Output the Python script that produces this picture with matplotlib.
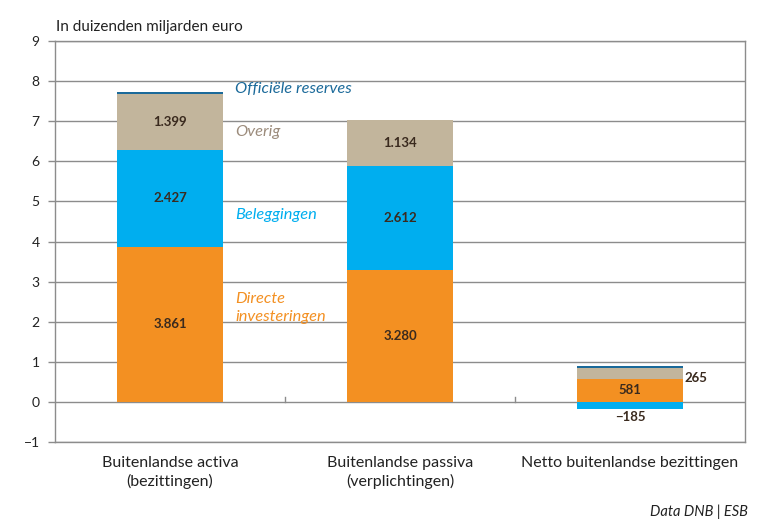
import numpy as np
import matplotlib.pyplot as plt

# Data (in duizenden miljarden euro)
categories = ['Buitenlandse activa\n(bezittingen)',
              'Buitenlandse passiva\n(verplichtingen)',
              'Netto buitenlandse bezittingen']
directe = [3.861, 3.280, 0.581]
beleggingen = [2.427, 2.612, -0.185]
overig = [1.399, 1.134, 0.265]
reserves = [0.05, 0.0, 0.05]

labels_directe = ['3.861', '3.280', '581']
labels_beleggingen = ['2.427', '2.612', '\u2212185']
labels_overig = ['1.399', '1.134', '265']

C_ORANGE = '#F39022'
C_BLUE = '#00AEEF'
C_TAN = '#C2B59C'
C_RES = '#1B6A9A'
C_TXT = '#3A2A1E'
C_GRID = '#8C8C8C'

plt.rcParams['font.family'] = ['Lato', 'DejaVu Sans']

fig = plt.figure(figsize=(7.62, 5.26), dpi=100)
ax = fig.add_axes([0.0722, 0.1597, 0.9055, 0.7623])

x = np.arange(len(categories))
w = 0.46
directe = np.array(directe)
beleggingen = np.array(beleggingen)
overig = np.array(overig)
reserves = np.array(reserves)

# positieve delen gestapeld, negatieve beleggingen onder nul
pos_bel = np.where(beleggingen > 0, beleggingen, 0)
neg_bel = np.where(beleggingen < 0, beleggingen, 0)

ax.bar(x, directe, w, color=C_ORANGE, zorder=3)
ax.bar(x, pos_bel, w, bottom=directe, color=C_BLUE, zorder=3)
ax.bar(x, neg_bel, w, color=C_BLUE, zorder=3)
top2 = directe + pos_bel
ax.bar(x, overig, w, bottom=top2, color=C_TAN, zorder=3)
top3 = top2 + overig
ax.bar(x, reserves, w, bottom=top3, color=C_RES, zorder=3)

# waardelabels
lab_kw = dict(ha='center', va='center', fontsize=9.5, fontweight='bold', color=C_TXT, zorder=4)
for i in range(2):
    ax.text(x[i], directe[i] / 2, labels_directe[i], **lab_kw)
    ax.text(x[i], directe[i] + beleggingen[i] / 2, labels_beleggingen[i], **lab_kw)
    ax.text(x[i], top2[i] + overig[i] / 2, labels_overig[i], **lab_kw)
ax.text(x[2], directe[2] / 2, labels_directe[2], **lab_kw)
ax.text(x[2], beleggingen[2] - 0.18, labels_beleggingen[2], **lab_kw)
ax.text(x[2] + w / 2 + 0.005, top2[2] + overig[2] / 2 - 0.12, labels_overig[2],
        ha='left', va='center', fontsize=9.5, fontweight='bold', color=C_TXT, zorder=4)

# reekslabels
sx = 0.283
skw = dict(ha='left', va='center', fontsize=11.8, style='italic', zorder=4)
ax.text(sx, 7.8, 'Officiële reserves', color=C_RES, **skw)
ax.text(sx, 6.72, 'Overig', color='#9C8C7C', **skw)
ax.text(sx, 4.66, 'Beleggingen', color=C_BLUE, **skw)
ax.text(sx, 2.34, 'Directe\ninvesteringen', color=C_ORANGE, linespacing=1.3, **skw)

# assen
ax.set_xlim(-0.5, 2.5)
ax.set_ylim(-1, 9)
ax.set_yticks(range(-1, 10))
ax.set_yticklabels(['\u22121'] + [str(v) for v in range(0, 10)])
ax.yaxis.grid(True, color=C_GRID, linewidth=1.0, zorder=1)
for s in ax.spines.values():
    s.set_color(C_GRID)
    s.set_linewidth(1.0)
ax.tick_params(axis='y', length=5, width=1, color=C_GRID, labelsize=10, labelcolor='#222222', pad=6)
ax.set_xticks(x)
ax.set_xticklabels(categories, fontsize=11.5, color='#222222', linespacing=1.3)
ax.tick_params(axis='x', length=0, pad=10)

# kleine scheidingsstreepjes op de nullijn
for b in [0.5, 1.5]:
    ax.plot([b, b], [0, 0.12], color=C_GRID, linewidth=1, zorder=2)

fig.text(0.0735, 0.948, 'In duizenden miljarden euro', fontsize=11, color='#222222',
         ha='left', va='center')
fig.text(0.982, 0.027, 'Data DNB | ESB', fontsize=10.5, style='italic', color='#222222',
         ha='right', va='center')

fig.savefig('out.png', dpi=100, facecolor='white')
